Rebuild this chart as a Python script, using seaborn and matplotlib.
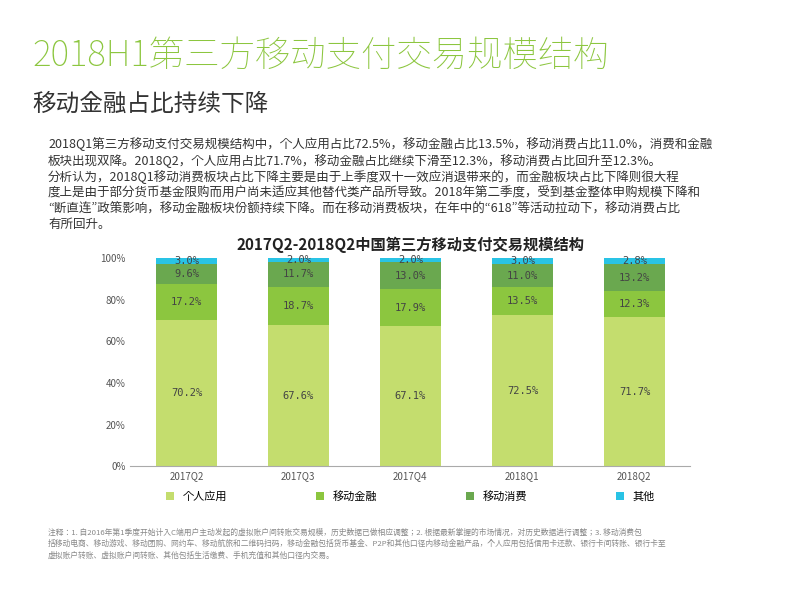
import matplotlib
matplotlib.use("Agg")
import matplotlib.pyplot as plt
import seaborn as sns
import numpy as np
import pandas as pd

plt.rcParams["font.family"] = ["Noto Sans CJK JP", "Noto Sans CJK SC", "DejaVu Sans"]

quarters = ["2017Q2", "2017Q3", "2017Q4", "2018Q1", "2018Q2"]
personal = [70.2, 67.6, 67.1, 72.5, 71.7]
finance = [17.2, 18.7, 17.9, 13.5, 12.3]
consume = [9.6, 11.7, 13.0, 11.0, 13.2]
other = [3.0, 2.0, 2.0, 3.0, 2.8]
series_names = ["个人应用", "移动金融", "移动消费", "其他"]
colors = ["#c4dd6e", "#8cc63f", "#6aa84f", "#29c3e5"]

fig = plt.figure(figsize=(8, 6), dpi=100)
fig.text(0.04, 0.89, "2018H1第三方移动支付交易规模结构", fontsize=25.5, color="#8cc63f", weight="light")
fig.text(0.04, 0.815, "移动金融占比持续下降", fontsize=17, color="#333333")
body = ("2018Q1第三方移动支付交易规模结构中，个人应用占比72.5%，移动金融占比13.5%，移动消费占比11.0%，消费和金融\n"
        "板块出现双降。2018Q2，个人应用占比71.7%，移动金融占比继续下滑至12.3%，移动消费占比回升至12.3%。\n"
        "分析认为，2018Q1移动消费板块占比下降主要是由于上季度双十一效应消退带来的，而金融板块占比下降则很大程\n"
        "度上是由于部分货币基金限购而用户尚未适应其他替代类产品所导致。2018年第二季度，受到基金整体申购规模下降和\n"
        "“断直连”政策影响，移动金融板块份额持续下降。而在移动消费板块，在年中的“618”等活动拉动下，移动消费占比\n"
        "有所回升。")
fig.text(0.06, 0.615, body, fontsize=9, color="#333333", linespacing=1.25, va="bottom")

ax = fig.add_axes([0.163, 0.223, 0.70, 0.347])
df = pd.DataFrame({"q": quarters, "个人应用": personal, "移动金融": finance, "移动消费": consume, "其他": other})
bottom = np.zeros(len(quarters))
for name, c in zip(series_names, colors):
    vals = df[name].values
    sns.barplot(x=df["q"], y=vals, bottom=bottom, color=c, ax=ax, width=0.55, label=name, saturation=1)
    for i, (v, b) in enumerate(zip(vals, bottom)):
        ax.text(i, b + v / 2, f"{v:.1f}%", ha="center", va="center", fontsize=7.5, color="#444444", family="DejaVu Sans Mono")
    bottom = bottom + vals

ax.set_ylim(0, 100)
ax.set_yticks([0, 20, 40, 60, 80, 100])
ax.set_yticklabels([f"{t}%" for t in [0, 20, 40, 60, 80, 100]], fontsize=7, color="#555555")
ax.tick_params(axis="x", labelsize=7, colors="#555555", length=0)
ax.tick_params(axis="y", length=0)
ax.set_xlabel("")
ax.set_ylabel("")
for s in ["top", "right", "left"]:
    ax.spines[s].set_visible(False)
ax.spines["bottom"].set_color("#aaaaaa")
ax.set_title("2017Q2-2018Q2中国第三方移动支付交易规模结构", fontsize=11, weight="bold", pad=6, color="#222222")
ax.legend(loc="upper center", bbox_to_anchor=(0.5, -0.07), ncol=4, frameon=False, fontsize=8,
          handlelength=0.7, handleheight=0.7, columnspacing=8)

note = ("注释：1. 自2016年第1季度开始计入C端用户主动发起的虚拟账户间转账交易规模，历史数据已做相应调整；2. 根据最新掌握的市场情况，对历史数据进行调整；3. 移动消费包\n"
        "括移动电商、移动游戏、移动团购、网约车、移动航旅和二维码扫码，移动金融包括货币基金、P2P和其他口径内移动金融产品，个人应用包括信用卡还款、银行卡间转账、银行卡至\n"
        "虚拟账户转账、虚拟账户间转账、其他包括生活缴费、手机充值和其他口径内交易。")
fig.text(0.06, 0.07, note, fontsize=5.6, color="#888888", linespacing=1.6)

fig.savefig("out.png", dpi=100)
